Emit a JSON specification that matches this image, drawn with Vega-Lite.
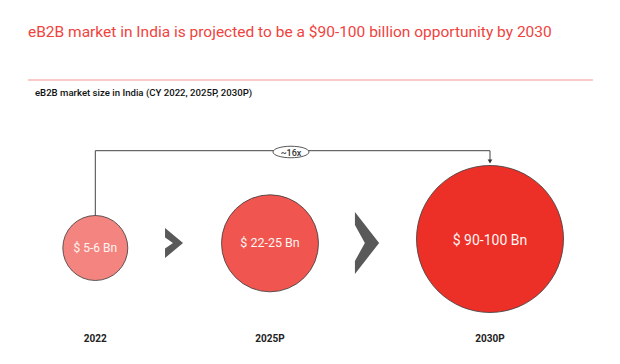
{
  "$schema": "https://vega.github.io/schema/vega-lite/v6.json",
  "width": 620,
  "height": 364,
  "autosize": "none",
  "padding": 0,
  "background": "white",
  "config": {"view": {"stroke": null}, "font": "Roboto"},
  "data": {"values": [
    {"year": 2022, "label": "2022", "value": "$ 5-6 Bn", "mid": 5.5},
    {"year": 2025, "label": "2025P", "value": "$ 22-25 Bn", "mid": 23.5},
    {"year": 2030, "label": "2030P", "value": "$ 90-100 Bn", "mid": 95}
  ]},
  "layer": [
    {
      "data": {"values": [{}]},
      "mark": {"type": "text", "align": "left", "baseline": "alphabetic", "fontSize": 15.5, "color": "#f0433e", "font": "Roboto", "text": "eB2B market in India is projected to be a $90-100 billion opportunity by 2030"},
      "encoding": {
        "x": {"datum": 2020.844, "type": "quantitative", "axis": null, "scale": {"domain": [2022, 2025, 2030], "range": [95.3, 270, 490], "nice": false, "zero": false}},
        "y": {"datum": 37, "type": "quantitative", "axis": null, "scale": {"domain": [0, 364], "reverse": true, "nice": false, "zero": false}}
      }
    },
    {
      "data": {"values": [{}]},
      "mark": {"type": "rule", "stroke": "#f59893", "strokeWidth": 1},
      "encoding": {
        "x": {"datum": 2020.844, "type": "quantitative", "axis": null},
        "x2": {"datum": 2032.34},
        "y": {"datum": 80, "type": "quantitative", "axis": null}
      }
    },
    {
      "data": {"values": [{}]},
      "mark": {"type": "text", "align": "left", "baseline": "alphabetic", "fontSize": 9.6, "fontWeight": 500, "color": "#111111", "font": "Roboto", "text": "eB2B market size in India (CY 2022, 2025P, 2030P)"},
      "encoding": {
        "x": {"datum": 2020.964, "type": "quantitative", "axis": null},
        "y": {"datum": 96, "type": "quantitative", "axis": null}
      }
    },
    {
      "data": {"values": [{}]},
      "mark": {"type": "rule", "stroke": "#444444", "strokeWidth": 1},
      "encoding": {
        "x": {"datum": 2022, "type": "quantitative", "axis": null},
        "y": {"datum": 150.7, "type": "quantitative", "axis": null},
        "y2": {"datum": 216}
      }
    },
    {
      "data": {"values": [{}]},
      "mark": {"type": "rule", "stroke": "#444444", "strokeWidth": 1},
      "encoding": {
        "x": {"datum": 2022, "type": "quantitative", "axis": null},
        "x2": {"datum": 2030},
        "y": {"datum": 150.7, "type": "quantitative", "axis": null}
      }
    },
    {
      "data": {"values": [{}]},
      "mark": {"type": "rule", "stroke": "#444444", "strokeWidth": 1},
      "encoding": {
        "x": {"datum": 2030, "type": "quantitative", "axis": null},
        "y": {"datum": 150.7, "type": "quantitative", "axis": null},
        "y2": {"datum": 160}
      }
    },
    {
      "data": {"values": [{}]},
      "mark": {"type": "point", "shape": "triangle-down", "filled": true, "fill": "#333333", "strokeWidth": 0, "size": 22, "opacity": 1},
      "encoding": {
        "x": {"datum": 2030, "type": "quantitative", "axis": null},
        "y": {"datum": 161.5, "type": "quantitative", "axis": null}
      }
    },
    {
      "data": {"values": [{}]},
      "mark": {"type": "point", "shape": "M-1,0 C-1,-0.177 -0.552,-0.32 0,-0.32 C0.552,-0.32 1,-0.177 1,0 C1,0.177 0.552,0.32 0,0.32 C-0.552,0.32 -1,0.177 -1,0 Z", "filled": true, "fill": "white", "stroke": "#444444", "strokeWidth": 0.9, "size": 1296, "opacity": 1},
      "encoding": {
        "x": {"datum": 2025.477, "type": "quantitative", "axis": null},
        "y": {"datum": 152, "type": "quantitative", "axis": null}
      }
    },
    {
      "data": {"values": [{}]},
      "mark": {"type": "text", "align": "center", "baseline": "middle", "fontSize": 9, "fontWeight": 500, "color": "#333333", "font": "Roboto", "text": "~16x"},
      "encoding": {
        "x": {"datum": 2025.477, "type": "quantitative", "axis": null},
        "y": {"datum": 152.5, "type": "quantitative", "axis": null}
      }
    },
    {
      "data": {"values": [{}]},
      "mark": {"type": "point", "shape": "M-0.6,-1 L0.6,0 L-0.6,1 L-0.6,0.36 L-0.07,0 L-0.6,-0.36 Z", "filled": true, "fill": "#595959", "strokeWidth": 0, "size": 900, "opacity": 1},
      "encoding": {
        "x": {"datum": 2023.352, "type": "quantitative", "axis": null},
        "y": {"datum": 243, "type": "quantitative", "axis": null}
      }
    },
    {
      "data": {"values": [{}]},
      "mark": {"type": "point", "shape": "M-0.39,-1 L0.39,0 L-0.39,1 L-0.39,0.58 L-0.07,0 L-0.39,-0.58 Z", "filled": true, "fill": "#595959", "strokeWidth": 0, "size": 3844, "opacity": 1},
      "encoding": {
        "x": {"datum": 2027.205, "type": "quantitative", "axis": null},
        "y": {"datum": 243, "type": "quantitative", "axis": null}
      }
    },
    {
      "transform": [{"filter": "datum.year == 2022"}],
      "encoding": {
        "x": {"field": "year", "type": "quantitative", "axis": null},
        "y": {"datum": 248, "type": "quantitative", "axis": null}
      },
      "layer": [
        {"mark": {"type": "circle", "size": 4225, "color": "#f4847f", "opacity": 1, "stroke": "#3a3a3a", "strokeWidth": 0.8}},
        {"mark": {"type": "text", "fontSize": 12, "color": "#fff4f2", "font": "Roboto", "baseline": "middle", "align": "center"}, "encoding": {"text": {"field": "value"}}}
      ]
    },
    {
      "transform": [{"filter": "datum.year == 2025"}],
      "encoding": {
        "x": {"field": "year", "type": "quantitative", "axis": null},
        "y": {"datum": 243.3, "type": "quantitative", "axis": null}
      },
      "layer": [
        {"mark": {"type": "circle", "size": 9409, "color": "#f0554f", "opacity": 1, "stroke": "#3a3a3a", "strokeWidth": 0.8}},
        {"mark": {"type": "text", "fontSize": 12.5, "color": "#fff4f2", "font": "Roboto", "baseline": "middle", "align": "center"}, "encoding": {"text": {"field": "value"}}}
      ]
    },
    {
      "transform": [{"filter": "datum.year == 2030"}],
      "encoding": {
        "x": {"field": "year", "type": "quantitative", "axis": null},
        "y": {"datum": 239, "type": "quantitative", "axis": null}
      },
      "layer": [
        {"mark": {"type": "circle", "size": 21609, "color": "#ec3028", "opacity": 1, "stroke": "#3a3a3a", "strokeWidth": 0.8}},
        {"mark": {"type": "text", "fontSize": 14, "color": "#fff4f2", "font": "Roboto", "baseline": "middle", "align": "center", "dy": 2}, "encoding": {"text": {"field": "value"}}}
      ]
    },
    {
      "mark": {"type": "text", "fontSize": 10, "fontWeight": "bold", "color": "#222222", "font": "Roboto", "baseline": "middle", "align": "center"},
      "encoding": {
        "x": {"field": "year", "type": "quantitative", "axis": null},
        "y": {"datum": 339, "type": "quantitative", "axis": null},
        "text": {"field": "label"}
      }
    }
  ]
}
